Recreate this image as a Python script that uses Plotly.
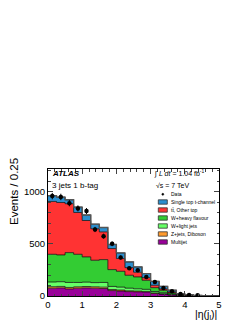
import numpy as np
import plotly.graph_objects as go

# ---------------- data ----------------
bin_lo = 0.0
bin_width = 0.25
n_bins = 20
multijet = [75, 78, 68, 75, 78, 75, 72, 52, 48, 42, 40, 38, 25, 18, 10, 5, 3, 2, 1, 0]
zjets    = [14, 14, 14, 13, 13, 13, 13, 10, 9, 8, 7, 6, 4, 3, 2, 1, 1, 0.5, 0.3, 0]
wlight   = [45, 45, 48, 42, 42, 40, 45, 30, 28, 25, 22, 20, 14, 10, 6, 3, 2, 1, 0.5, 0]
wheavy   = [266, 257, 286, 270, 242, 215, 219, 161, 152, 124, 114, 87, 37, 24, 11, 5, 2, 0.5, 0.2, 0.3]
ttbar    = [507, 503, 469, 401, 349, 302, 266, 202, 122, 73, 45, 25, 23, 12, 9, 4, 2, 1, 0.5, 0.2]
tchan    = [55, 52, 38, 52, 53, 44, 42, 39, 54, 55, 51, 39, 38, 26, 17, 4, 3, 1, 0.5, 0.2]
data     = [958, 950, 890, 840, 815, 638, 574, 500, 369, 266, 247, 183, 135, 77, 45, 19, 10, 6, None, None]

names = ["Multijet", "Z+jets, Diboson", "W+light jets", "W+heavy flavour",
         "tt\u0304, Other top", "Single top t-channel"]
colors = ["#990099", "#ff9a2e", "#66ff66", "#33cc33", "#ff3333", "#2b8fcf"]
components = [multijet, zjets, wlight, wheavy, ttbar, tchan]

edges = bin_lo + bin_width * np.arange(n_bins + 1)
centers = edges[:-1] + bin_width / 2

fig = go.Figure()
cum = np.zeros(n_bins)
for i, (comp, col, nm) in enumerate(zip(components, colors, names)):
    cum = cum + np.array(comp, dtype=float)
    y = list(cum) + [cum[-1]]
    fig.add_trace(go.Scatter(x=edges, y=y, mode="lines", line_shape="hv",
                             line=dict(color="black", width=0.7),
                             fill="tozeroy" if i == 0 else "tonexty",
                             fillcolor=col, name=nm, showlegend=False,
                             hoverinfo="skip"))
# total outline (uncertainty-band look)
fig.add_trace(go.Scatter(x=edges, y=list(cum) + [cum[-1]], mode="lines", line_shape="hv",
                         line=dict(color="#555555", width=1.3), showlegend=False,
                         hoverinfo="skip"))

dvals = np.array([d if d is not None else np.nan for d in data], dtype=float)
fig.add_trace(go.Scatter(x=centers, y=dvals, mode="markers",
                         marker=dict(color="black", size=4.5),
                         error_y=dict(type="data", array=np.sqrt(np.nan_to_num(dvals)),
                                      thickness=1, width=0, color="black"),
                         showlegend=False, name="Data"))

# ---------------- layout ----------------
# page has an 8 px body margin; target frame in window pixels:
OFF = 8
L, R, T, B = 48, 219, 169, 296
W, H = 249 - OFF, 323 - OFF


def px(gx):
    return (gx - L) / (R - L)


def py(gy):
    return (B - gy) / (B - T)


font = "Liberation Sans, Arial, Helvetica, sans-serif"
fig.update_layout(
    template="none",
    width=W, height=H,
    margin=dict(l=L - OFF, r=W - (R - OFF), t=T - OFF, b=H - (B - OFF), pad=0, autoexpand=False),
    paper_bgcolor="white", plot_bgcolor="white",
    font=dict(family=font, size=9, color="black"),
    showlegend=False,
)
fig.update_xaxes(range=[0, 5], dtick=1, ticks="inside", ticklen=5, tickwidth=0.8,
                 showline=True, linecolor="black", linewidth=1, mirror="ticks",
                 showgrid=False, zeroline=False, automargin=False,
                 minor=dict(dtick=0.2, ticks="inside", ticklen=2.5, tickwidth=0.8, showgrid=False),
                 tickfont=dict(size=9.5))
fig.update_yaxes(range=[0, 1218], tickvals=[0, 500, 1000], ticks="inside", ticklen=5, tickwidth=0.8,
                 showline=True, linecolor="black", linewidth=1, mirror="ticks",
                 showgrid=False, zeroline=False, automargin=False,
                 minor=dict(dtick=100, ticks="inside", ticklen=2.5, tickwidth=0.8, showgrid=False),
                 tickfont=dict(size=9.5))

ann = []
shapes = []


def text(gx, gy, s, size, xanchor="left", **kw):
    ann.append(dict(x=px(gx), y=py(gy), xref="paper", yref="paper", text=s, showarrow=False,
                    xanchor=xanchor, yanchor="middle", font=dict(size=size, family=font, color="black"), **kw))


text(49.5, 173, "<b><i>ATLAS</i></b>", 8)
text(49.5, 185.5, "3 jets 1 b-tag", 8)
text(151.5, 173, "\u222b <i>L dt</i> = 1.04 fb<sup>-1</sup>", 7)
text(153.5, 185.7, "\u221as = 7 TeV", 7)
# axis titles
ann.append(dict(x=px(219), y=py(315), xref="paper", yref="paper", text="|\u03b7(j<sub>l</sub>)|",
                showarrow=False, xanchor="right", yanchor="middle", font=dict(size=10.5, family=font)))
ann.append(dict(x=px(14), y=py(192), xref="paper", yref="paper", text="Events / 0.25",
                showarrow=False, textangle=-90, xanchor="center", yanchor="middle",
                font=dict(size=11.5, family=font)))

# legend
leg_y = [202, 210, 218, 226, 234, 242]
leg_names = names[::-1]
leg_cols = colors[::-1]
bx0, bx1 = 158.3, 167.3
for yy, nm, col in zip(leg_y, leg_names, leg_cols):
    shapes.append(dict(type="rect", xref="paper", yref="paper", x0=px(bx0), x1=px(bx1),
                       y0=py(yy + 2.2), y1=py(yy - 2.2), fillcolor=col,
                       line=dict(color="#333333", width=0.8)))
    text(169.3, yy, nm, 5)
# data legend marker
shapes.append(dict(type="circle", xref="paper", yref="paper", x0=px(161.8), x1=px(163.8),
                   y0=py(195.3), y1=py(193.3), fillcolor="black", line=dict(color="black", width=0.5)))
text(169.3, 194.3, "Data", 5)

fig.update_layout(annotations=ann, shapes=shapes)
fig.write_html("out.html")
